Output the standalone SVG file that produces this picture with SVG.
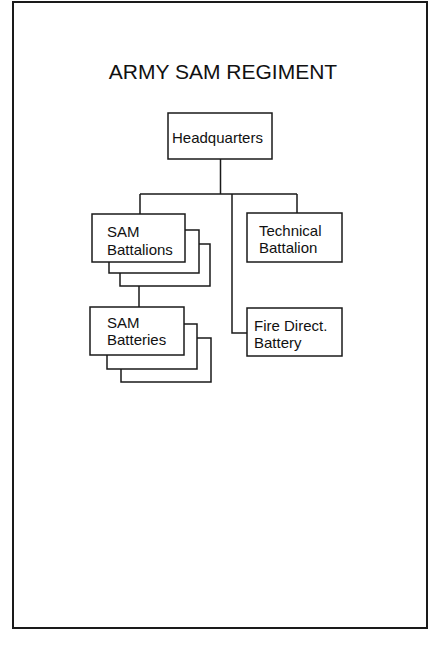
<svg xmlns="http://www.w3.org/2000/svg" width="438" height="648" viewBox="0 0 438 648">
<style>
.box{fill:#fff;stroke:#1a1a1a;stroke-width:1.5}
.ln{fill:none;stroke:#1a1a1a;stroke-width:1.5}
.t{font-family:"Liberation Sans",Arial,sans-serif;font-size:15px;fill:#111}
.title{font-family:"Liberation Sans",Arial,sans-serif;font-size:21px;fill:#111}
</style>
<rect x="0" y="0" width="438" height="648" fill="#fff"/>
<rect id="frame" x="13" y="2" width="414" height="626" fill="none" stroke="#1a1a1a" stroke-width="2"/>
<text class="title" x="223" y="79" text-anchor="middle">ARMY SAM REGIMENT</text>
<g id="connectors">
<path class="ln" d="M220.5,159 V194 M140,194 H297 M140,194 V214 M297,194 V213 M232,194 V333 H247 M139,286 V307"/>
</g>
<g id="hq">
<rect class="box" x="168" y="113" width="104" height="46"/>
<text class="t" x="172" y="143">Headquarters</text>
</g>
<g id="sam-battalions">
<path class="ln" d="M120,273 V286 H210 V244 H199"/>
<path class="ln" d="M109,262 V273 H199 V230 H185"/>
<rect class="box" x="92" y="214" width="93" height="48"/>
<text class="t" x="107" y="237">SAM</text>
<text class="t" x="107" y="255">Battalions</text>
</g>
<g id="sam-batteries">
<path class="ln" d="M121,369 V382 H211 V338 H197"/>
<path class="ln" d="M107,355 V369 H197 V324 H184"/>
<rect class="box" x="90" y="307" width="94" height="48"/>
<text class="t" x="107" y="328">SAM</text>
<text class="t" x="107" y="345">Batteries</text>
</g>
<g id="technical-battalion">
<rect class="box" x="247" y="213" width="95" height="49"/>
<text class="t" x="259" y="236">Technical</text>
<text class="t" x="259" y="253">Battalion</text>
</g>
<g id="fire-direct-battery">
<rect class="box" x="247" y="308" width="95" height="48"/>
<text class="t" x="254" y="331">Fire Direct.</text>
<text class="t" x="254" y="348">Battery</text>
</g>
</svg>
